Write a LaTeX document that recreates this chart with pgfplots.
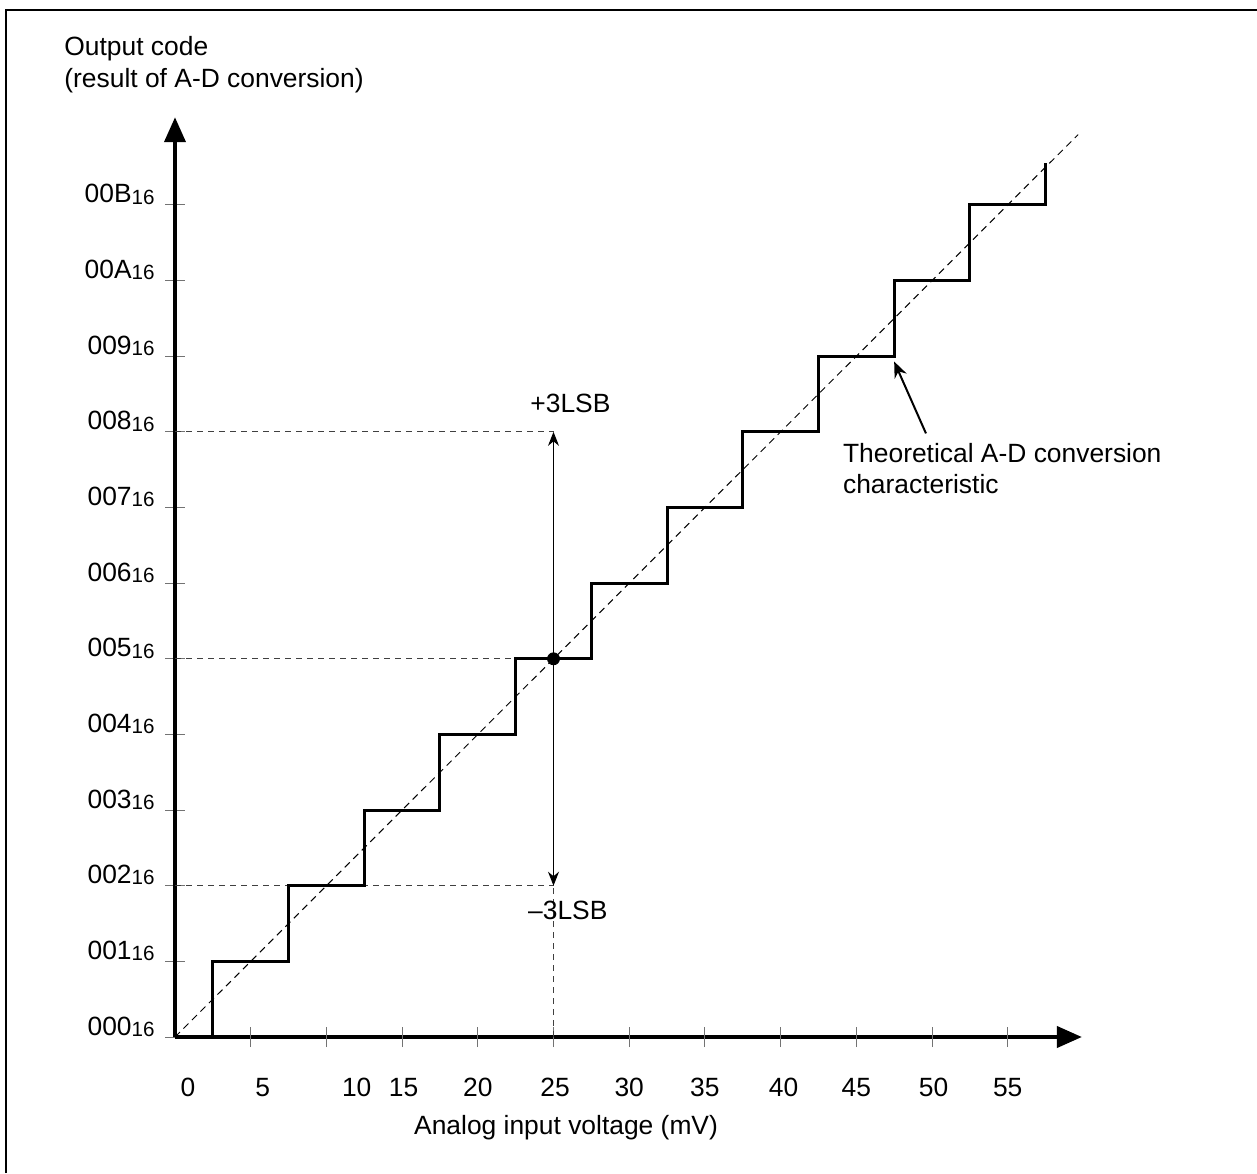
\documentclass[border=0pt]{standalone}
\usepackage{fontspec}
\setmainfont{Liberation Sans}
\usepackage{pgfplots}
\pgfplotsset{compat=1.18}
\usetikzlibrary{arrows.meta}
\newcommand{\hex}[1]{#1{\fontsize{10.3}{12}\selectfont\raisebox{-0.6pt}{16}}}
\begin{document}
\fontsize{13.2}{16}\selectfont
\begin{tikzpicture}
\useasboundingbox (0,0) rectangle (628.5pt,586.5pt);
\draw[line width=1.3pt] (3pt,0) -- (3pt,581.5pt) -- (628.5pt,581.5pt);
\node[anchor=base west, inner sep=0pt] at (32pt,558.5pt) {Output code};
\node[anchor=base west, inner sep=0pt] at (32pt,542.5pt) {(result of A-D conversion)};
\begin{axis}[
  at={(87.5pt,68pt)}, anchor=origin,
  x=7.57pt, y=37.82pt,
  xmin=0, xmax=59.9, ymin=0, ymax=12.16,
  axis lines=left,
  axis line style={line width=2pt, -{Triangle[length=12.5pt,width=10.5pt]}},
  clip=false,
  tick align=center,
  major tick length=10pt,
  tick style={line width=0.5pt, color=black!55},
  xtick={0.85,5.8,12.0,15.1,20,25.1,30,35,40.2,45,50.1,55},
  xticklabels={0,5,10,15,20,25,30,35,40,45,50,55},
  xtick style={draw=none},
  xticklabel style={anchor=base, inner sep=0pt, yshift=-24.5pt},
  extra x ticks={5,10,15,20,25,30,35,40,45,50,55},
  extra x tick labels={},
  extra x tick style={xtick style={draw=black!55}},
  ytick={0,1,2,3,4,5,6,7,8,9,10,11},
  yticklabels={\hex{000},\hex{001},\hex{002},\hex{003},\hex{004},\hex{005},\hex{006},\hex{007},\hex{008},\hex{009},\hex{00A},\hex{00B}},
  yticklabel style={anchor=base east, inner sep=0pt, xshift=-5pt, yshift=1pt},
]
% guide lines
\addplot[black!75, line width=0.5pt, dash pattern=on 3pt off 2.5pt] coordinates {(0,8) (25,8)};
\addplot[black!75, line width=0.5pt, dash pattern=on 3pt off 2.5pt] coordinates {(0,5) (25,5)};
\addplot[black!75, line width=0.5pt, dash pattern=on 3pt off 2.5pt] coordinates {(0,2) (25,2)};
\addplot[black!75, line width=0.5pt, dash pattern=on 3pt off 2.5pt] coordinates {(25,0) (25,2)};
% ideal diagonal
\addplot[black, line width=0.5pt, dash pattern=on 3.5pt off 2.5pt] coordinates {(0,0) (59.65,11.93)};
% staircase
\addplot[black, line width=1.5pt, line join=miter] coordinates {
(2.5,0) (2.5,1) (7.5,1) (7.5,2) (12.5,2) (12.5,3) (17.5,3) (17.5,4)
(22.5,4) (22.5,5) (27.5,5) (27.5,6) (32.5,6) (32.5,7) (37.5,7) (37.5,8)
(42.5,8) (42.5,9) (47.5,9) (47.5,10) (52.5,10) (52.5,11) (57.5,11) (57.5,11.55)};
% +/-3 LSB arrow
\addplot[black, line width=0.5pt, {Stealth[length=7pt,width=5.5pt]}-{Stealth[length=7pt,width=5.5pt]}] coordinates {(25,2) (25,8)};
\addplot[only marks, mark=*, mark size=3pt, black] coordinates {(25,5)};
% annotation arrow
\addplot[black, line width=1pt, -{Stealth[length=8pt,width=6.5pt]}] coordinates {(49.6,7.98) (47.5,8.93)};
\node[anchor=base west, inner sep=0pt] at (axis cs:23.45,8.25) {+3LSB};
\node[anchor=base west, inner sep=0pt] at (axis cs:23.3,1.547) {–3LSB};
\node[anchor=base west, inner sep=0pt] at (axis cs:44.1,7.59) {Theoretical A-D conversion};
\node[anchor=base west, inner sep=0pt] at (axis cs:44.1,7.19) {characteristic};
\node[anchor=base, inner sep=0pt, yshift=-48.5pt] at (axis cs:25.83,0) {Analog input voltage (mV)};
\end{axis}
\end{tikzpicture}
\end{document}
